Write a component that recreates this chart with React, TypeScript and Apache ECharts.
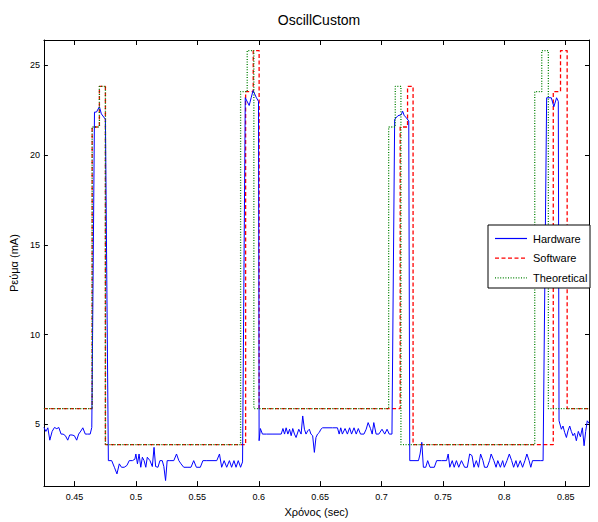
import React, { useEffect, useRef } from "react";
import * as echarts from "echarts";

const xTicks = [0.45, 0.5, 0.55, 0.6, 0.65, 0.7, 0.75, 0.8, 0.85];
const yTicks = [5, 10, 15, 20, 25];

const seriesNames = ["Hardware", "Software", "Theoretical"];
const seriesColors = ["#0000ff", "#ff0000", "#008000"];

const hwTime = [
  0.425, 0.4266, 0.4282, 0.4298, 0.4317, 0.4336, 0.4355, 0.4371, 0.439, 0.4406, 0.4425, 0.4444, 0.446, 0.4479, 0.4498,
  0.4517, 0.4533, 0.4551, 0.4567, 0.4587, 0.4605, 0.4627, 0.464,
  0.4662, 0.4678, 0.4702, 0.4718, 0.4751, 0.4775,
  0.4802, 0.4824, 0.4845, 0.4864, 0.4882, 0.4904, 0.4926, 0.4945, 0.4971, 0.4991, 0.4999, 0.5012, 0.5025, 0.5039,
  0.5052, 0.5066, 0.508, 0.5092, 0.5114, 0.5133, 0.5147, 0.516, 0.5179, 0.5195, 0.5214, 0.5227, 0.5241, 0.5254,
  0.5276, 0.5308, 0.533, 0.5349, 0.5367, 0.5389, 0.5416, 0.5448, 0.547, 0.5492, 0.5524, 0.5545, 0.5577, 0.5658,
  0.568, 0.5698, 0.5718, 0.5739, 0.5761, 0.5779, 0.5798, 0.5815, 0.5833, 0.5852, 0.5868,
  0.589, 0.5922, 0.5938, 0.5954, 0.5981, 0.5998, 0.6003,
  0.6013, 0.603, 0.6062, 0.6116, 0.6183, 0.6197, 0.621, 0.6223, 0.6237, 0.6251, 0.6264, 0.6277, 0.6291, 0.6304,
  0.6326, 0.6345, 0.6358, 0.6372, 0.6385, 0.6399, 0.6412, 0.6425, 0.6439, 0.6453, 0.6466, 0.6479, 0.6493, 0.6506,
  0.652, 0.6601, 0.6641, 0.6655, 0.6668, 0.6681, 0.6703, 0.6722, 0.674, 0.6756, 0.6776, 0.6794, 0.6811, 0.6829,
  0.6857, 0.6875, 0.6891, 0.691, 0.6924, 0.6937, 0.6956, 0.6978, 0.7004, 0.7026, 0.7045, 0.7063, 0.7085,
  0.7107, 0.7134, 0.716, 0.7172, 0.7185, 0.7201, 0.7222, 0.723,
  0.7301, 0.7314, 0.7328, 0.7341, 0.736, 0.7376, 0.7395, 0.743, 0.7449, 0.7489, 0.753, 0.7543, 0.7556, 0.7576,
  0.7592, 0.761, 0.7629, 0.7651, 0.7677, 0.7699, 0.7718, 0.7737, 0.7753, 0.7772, 0.779, 0.7807, 0.7826, 0.7839,
  0.7861, 0.788, 0.7893, 0.7915, 0.7933, 0.7947, 0.7968, 0.7987, 0.8, 0.8022, 0.8041, 0.806, 0.8076, 0.8095,
  0.8109, 0.813, 0.8149, 0.8168, 0.8184, 0.8202, 0.8216, 0.823, 0.8297, 0.8316,
  0.8345, 0.8383, 0.8404, 0.8426, 0.844, 0.8446,
  0.8465, 0.8478, 0.8492, 0.8506, 0.8519, 0.8533, 0.8546, 0.856, 0.8573, 0.8587, 0.8603, 0.862, 0.8636, 0.865,
  0.8663, 0.8676, 0.869,
];

const hwCurrent = [
  4.82, 4.6, 4.8, 4.11, 4.6, 4.82, 4.75, 4.82, 4.45, 4.45, 4.36, 4.11, 4.4, 4.4, 4.36,
  4.11, 4.45, 4.62, 4.8, 4.45, 4.45, 4.45, 4.82,
  22.4, 22.4, 22.7, 22.3, 22.0, 2.97,
  2.97, 2.6, 2.23, 2.79, 2.6, 2.6, 2.7, 2.97, 2.97, 3.05, 3.34, 2.79, 3.34, 2.6,
  3.16, 2.97, 2.6, 3.16, 2.97, 2.64, 3.71, 2.64, 2.6, 2.97, 2.97, 2.64, 1.86, 2.97,
  2.97, 2.97, 3.34, 2.97, 2.79, 2.6, 2.6, 2.6, 2.97, 2.6, 2.6, 2.97, 2.97, 2.97,
  3.34, 2.6, 2.97, 2.6, 2.97, 2.6, 2.97, 2.6, 2.97, 2.6, 2.9,
  23.2, 22.77, 23.2, 23.6, 23.2, 23.0, 4.08,
  4.76, 4.45, 4.45, 4.45, 4.45, 4.76, 4.45, 4.8, 4.45, 4.72, 4.36, 4.76, 4.45, 4.26,
  4.72, 4.45, 5.46, 4.72, 4.45, 4.63, 4.72, 4.45, 4.36, 3.43, 4.26, 4.45, 4.54, 4.72,
  4.8, 4.8, 4.8, 4.45, 4.8, 4.45, 4.76, 4.45, 4.8, 4.45, 4.8, 4.45, 4.76, 4.45,
  4.45, 4.72, 5.09, 4.76, 4.45, 5.09, 4.45, 4.45, 4.72, 4.45, 4.72, 4.45, 4.45,
  22.0, 22.2, 22.25, 22.45, 22.2, 22.1, 21.9, 2.97,
  2.97, 3.34, 3.99, 2.6, 2.6, 2.97, 2.6, 2.6, 2.97, 2.97, 2.97, 3.34, 2.6, 2.97,
  2.6, 2.97, 2.6, 2.97, 2.6, 2.6, 3.34, 3.25, 2.6, 2.97, 2.6, 3.34, 2.97, 2.6,
  2.6, 2.97, 3.34, 2.97, 2.6, 2.97, 2.6, 2.97, 2.6, 2.97, 3.34, 2.97, 2.6, 2.97,
  2.6, 2.97, 2.6, 2.97, 3.34, 2.97, 2.6, 2.97, 2.97, 2.97,
  23.2, 23.2, 22.7, 23.2, 23.0, 5.19,
  4.72, 4.9, 4.54, 4.26, 4.63, 4.9, 4.6, 4.36, 4.5, 4.08, 4.6, 4.3, 4.8, 3.8,
  4.6, 5.19, 5.05,
];

const swTime = [0.425, 0.4643, 0.4702, 0.4751, 0.5893, 0.5955, 0.6003, 0.7152, 0.7212, 0.7257, 0.8399, 0.8458, 0.8512, 0.869];
const swCurrent = [5.87, 21.57, 23.84, 3.86, 23.54, 25.83, 5.87, 21.57, 23.84, 3.86, 23.54, 25.83, 5.87, 5.87];

const thTime = [0.425, 0.4643, 0.4702, 0.4751, 0.5852, 0.5906, 0.596, 0.7058, 0.7112, 0.7158, 0.8248, 0.8305, 0.8359, 0.869];
const thCurrent = [5.87, 21.57, 23.84, 3.86, 23.54, 25.83, 5.87, 21.57, 23.84, 3.86, 23.54, 25.83, 5.87, 5.87];

const FONT = '"Liberation Sans", Arial, sans-serif';
const X_MIN = 0.425;
const X_MAX = 0.869;
const Y_MIN = 1.55;
const Y_MAX = 26.42;

const lineDashes: any[] = [null, [4, 2.5], [1, 1.6]];
const lineWidths = [1, 1.3, 1.3];

function pairs(t: number[], v: number[]) {
  return t.map((x, i) => [x, v[i]]);
}

function legendGraphic() {
  const left = 488;
  const top = 225;
  const Z = 100;
  const children: any[] = [
    {
      type: "rect",
      z: Z,
      shape: { x: left, y: top, width: 102, height: 63 },
      style: { fill: "#fff", stroke: "#000", lineWidth: 1 },
    },
  ];
  seriesNames.forEach((name, i) => {
    const cy = top + 13.5 + i * 19.7;
    children.push({
      type: "line",
      z: Z + 1,
      shape: { x1: left + 7, y1: cy, x2: left + 39, y2: cy },
      style: {
        stroke: seriesColors[i],
        lineWidth: 1.2,
        lineDash: lineDashes[i] || undefined,
      },
    });
    children.push({
      type: "text",
      z: Z + 1,
      x: left + 45,
      y: cy,
      style: {
        text: name,
        font: `11px ${FONT}`,
        fill: "#000",
        verticalAlign: "middle",
        align: "left",
      },
    });
  });
  return children;
}

export default function App() {
  const ref = useRef<HTMLDivElement>(null);
  useEffect(() => {
    if (!ref.current) return;
    const chart = echarts.init(ref.current, undefined, { renderer: "svg" });
    const axisLine = { show: true, onZero: false, lineStyle: { color: "#000", width: 1 } };
    const option: any = {
      animation: false,
      backgroundColor: "#fff",
      title: {
        text: "OscillCustom",
        left: 314,
        top: 8,
        textAlign: "center",
        textStyle: { fontFamily: FONT, fontSize: 14, fontWeight: "normal", color: "#000" },
      },
      grid: { left: 39, right: 9, top: 40, bottom: 33 },
      graphic: { elements: legendGraphic() },
      xAxis: [
        {
          type: "value",
          min: X_MIN,
          max: X_MAX,
          position: "bottom",
          axisLine,
          axisTick: { show: true, inside: true, length: 5, customValues: xTicks, lineStyle: { color: "#000" } },
          axisLabel: {
            customValues: xTicks,
            fontFamily: FONT,
            fontSize: 9,
            color: "#000",
            margin: 6,
            formatter: (v: number) => String(+v.toFixed(2)),
          },
          splitLine: { show: false },
          name: "Χρόνος (sec)",
          nameLocation: "middle",
          nameGap: 15,
          nameTextStyle: { fontFamily: FONT, fontSize: 11, color: "#000" },
        },
        {
          type: "value",
          min: X_MIN,
          max: X_MAX,
          position: "top",
          axisLine,
          axisTick: { show: true, inside: true, length: 5, customValues: xTicks, lineStyle: { color: "#000" } },
          axisLabel: { show: false },
          splitLine: { show: false },
        },
      ],
      yAxis: [
        {
          type: "value",
          min: Y_MIN,
          max: Y_MAX,
          position: "left",
          axisLine,
          axisTick: { show: true, inside: true, length: 4, customValues: yTicks, lineStyle: { color: "#000" } },
          axisLabel: {
            customValues: yTicks,
            fontFamily: FONT,
            fontSize: 9,
            color: "#000",
            margin: 4,
          },
          splitLine: { show: false },
          name: "Ρεύμα (mA)",
          nameLocation: "middle",
          nameGap: 20,
          nameRotate: 90,
          nameTextStyle: { fontFamily: FONT, fontSize: 11, color: "#000" },
        },
        {
          type: "value",
          min: Y_MIN,
          max: Y_MAX,
          position: "right",
          axisLine,
          axisTick: { show: true, inside: true, length: 4, customValues: yTicks, lineStyle: { color: "#000" } },
          axisLabel: { show: false },
          splitLine: { show: false },
        },
      ],
      series: [
        {
          name: seriesNames[0],
          type: "line",
          data: pairs(hwTime, hwCurrent),
          symbol: "none",
          lineStyle: { color: seriesColors[0], width: lineWidths[0] },
          z: 3,
        },
        {
          name: seriesNames[1],
          type: "line",
          step: "end",
          data: pairs(swTime, swCurrent),
          symbol: "none",
          lineStyle: { color: seriesColors[1], width: lineWidths[1], type: lineDashes[1] },
          z: 2,
        },
        {
          name: seriesNames[2],
          type: "line",
          step: "end",
          data: pairs(thTime, thCurrent),
          symbol: "none",
          lineStyle: { color: seriesColors[2], width: lineWidths[2], type: lineDashes[2] },
          z: 4,
        },
      ],
    };
    chart.setOption(option);
    return () => chart.dispose();
  }, []);
  return (
    <div
      ref={ref}
      style={{ position: "fixed", left: 0, top: 0, width: 598, height: 522, background: "#fff" }}
    />
  );
}
